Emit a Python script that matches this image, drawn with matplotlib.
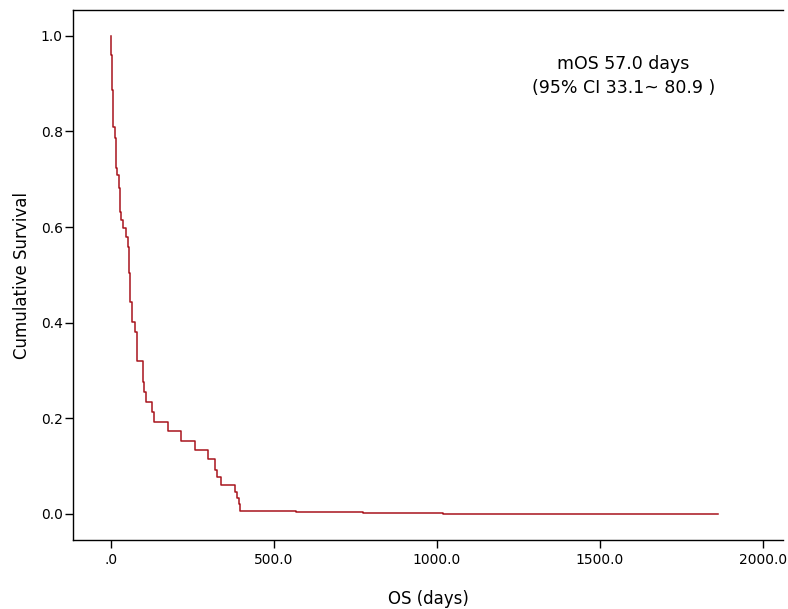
import matplotlib
matplotlib.use("Agg")
import matplotlib.pyplot as plt

# ── Data ──────────────────────────────────────────────────────────────────────
days = [0, 1, 3, 5, 8, 12, 15, 18, 25, 29, 33, 39, 47, 52, 56, 58, 65, 75, 80,
        100, 103, 108, 126, 134, 177, 216, 258, 298, 320, 325, 339, 382, 386,
        392, 396, 567, 774, 1018, 1862]
survival = [1.0, 0.960, 0.907, 0.886, 0.809, 0.786, 0.723, 0.709, 0.682, 0.632,
            0.615, 0.597, 0.580, 0.559, 0.504, 0.444, 0.401, 0.380, 0.320, 0.277,
            0.256, 0.234, 0.213, 0.193, 0.174, 0.153, 0.133, 0.114, 0.093, 0.077,
            0.061, 0.047, 0.033, 0.021, 0.0073, 0.0036, 0.0015, 0.0, 0.0]

x_ticks = [0, 500, 1000, 1500, 2000]
x_tick_labels = [".0", "500.0", "1000.0", "1500.0", "2000.0"]
y_ticks = [0.0, 0.2, 0.4, 0.6, 0.8, 1.0]
y_tick_labels = ["0.0", "0.2", "0.4", "0.6", "0.8", "1.0"]

plt.rcParams['font.family'] = ['DejaVu Sans']

# ── Plot ──────────────────────────────────────────────────────────────────────
fig = plt.figure(figsize=(7.88, 6.09), dpi=100)
ax = fig.add_axes([0.093, 0.1128, 0.9937 - 0.093, 0.9836 - 0.1128])

ax.step(days, survival, where='post', color='#A8141C', linewidth=1.1)

ax.set_xlim(-114.7, 2062)
ax.set_ylim(-0.055, 1.0537)
ax.set_xticks(x_ticks)
ax.set_xticklabels(x_tick_labels)
ax.set_yticks(y_ticks)
ax.set_yticklabels(y_tick_labels)
ax.tick_params(direction='out', length=5.5, width=1.0, labelsize=10, colors='black', pad=2)
ax.tick_params(axis='x', pad=4)

ax.set_xlabel('OS (days)', fontsize=12, labelpad=16)
ax.set_ylabel('Cumulative Survival', fontsize=12, labelpad=7)

for side in ['top', 'left', 'bottom']:
    ax.spines[side].set_linewidth(1.0)
ax.spines['right'].set_visible(False)

ax.text(0.775, 0.898, 'mOS 57.0 days', transform=ax.transAxes, ha='center', va='center', fontsize=12.5)
ax.text(0.775, 0.853, '(95% CI 33.1~ 80.9 )', transform=ax.transAxes, ha='center', va='center', fontsize=12.5)

fig.savefig('out.png', dpi=100)
